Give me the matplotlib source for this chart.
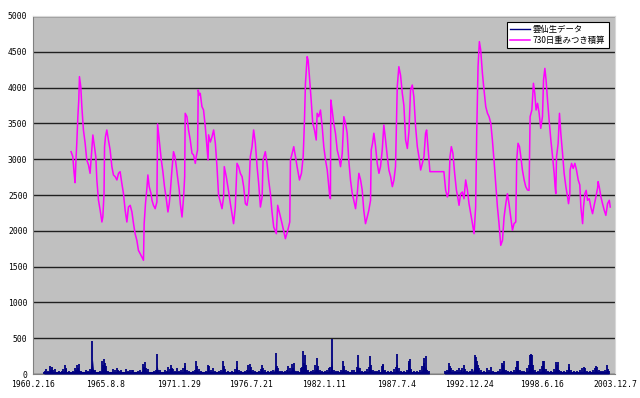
import numpy as np
import matplotlib
matplotlib.use("Agg")
import matplotlib.pyplot as plt

# x axis: days counted from 1960.2.16 (Excel category axis), data dates as decimal years
start_year = 1960.126
tick_labels = ["1960.2.16", "1965.8.8", "1971.1.29", "1976.7.21", "1982.1.11",
               "1987.7.4", "1992.12.24", "1998.6.16", "2003.12.7"]

# daily rain (mm) - the visible spikes
rain_year = [
    1960.95, 1961.05, 1961.13, 1961.25, 1961.38, 1961.45, 1961.58, 1961.65, 1961.76, 1961.9,
    1962.1, 1962.3, 1962.39, 1962.54, 1962.6, 1962.64, 1962.8,
    1963.1, 1963.27, 1963.35, 1963.44, 1963.52, 1963.57, 1963.7, 1963.9,
    1964.14, 1964.3, 1964.40, 1964.60, 1964.7, 1964.78, 1964.95,
    1965.2, 1965.35, 1965.42, 1965.48, 1965.55, 1965.65, 1965.8,
    1966.0, 1966.16, 1966.3, 1966.41, 1966.5, 1966.6, 1966.78, 1966.9,
    1967.16, 1967.3, 1967.45, 1967.55, 1967.66, 1967.8, 1968.0, 1968.17,
    1968.42, 1968.5, 1968.57, 1968.65, 1968.80, 1968.95,
    1969.2, 1969.35, 1969.47, 1969.55, 1969.68, 1969.85,
    1970.05, 1970.2, 1970.30, 1970.4, 1970.48, 1970.55, 1970.68, 1970.8, 1970.93,
    1971.1, 1971.3, 1971.45, 1971.55, 1971.6, 1971.7, 1971.9,
    1972.15, 1972.3, 1972.43, 1972.5, 1972.6, 1972.75, 1972.95,
    1973.15, 1973.32, 1973.36, 1973.5, 1973.7, 1973.85,
    1974.1, 1974.3, 1974.45, 1974.5, 1974.6, 1974.8,
    1975.1, 1975.3, 1975.45, 1975.5, 1975.62, 1975.8,
    1976.1, 1976.2, 1976.33, 1976.46, 1976.55, 1976.7, 1976.85,
    1977.1, 1977.25, 1977.35, 1977.45, 1977.6, 1977.8,
    1978.0, 1978.2, 1978.42, 1978.5, 1978.6, 1978.75, 1978.9,
    1979.1, 1979.25, 1979.35, 1979.5, 1979.60, 1979.7, 1979.78, 1979.9,
    1980.1, 1980.3, 1980.4, 1980.48, 1980.55, 1980.61, 1980.7, 1980.85,
    1981.05, 1981.2, 1981.36, 1981.48, 1981.6, 1981.75, 1981.9,
    1982.1, 1982.25, 1982.4, 1982.5, 1982.61, 1982.65, 1982.75, 1982.9,
    1983.1, 1983.3, 1983.49, 1983.55, 1983.7, 1983.85,
    1984.1, 1984.3, 1984.5, 1984.62, 1984.7, 1984.85,
    1985.1, 1985.3, 1985.43, 1985.5, 1985.57, 1985.7, 1985.85,
    1986.05, 1986.2, 1986.38, 1986.44, 1986.5, 1986.65, 1986.85,
    1987.1, 1987.3, 1987.45, 1987.51, 1987.55, 1987.65, 1987.8,
    1988.05, 1988.25, 1988.39, 1988.45, 1988.48, 1988.6, 1988.8,
    1989.05, 1989.25, 1989.4, 1989.52, 1989.58, 1989.68, 1989.8, 1989.95,
    1991.1, 1991.25, 1991.41, 1991.5, 1991.6, 1991.75, 1991.9,
    1992.05, 1992.2, 1992.35, 1992.45, 1992.55, 1992.65, 1992.8,
    1993.0, 1993.2, 1993.38, 1993.45, 1993.55, 1993.6, 1993.7, 1993.85,
    1994.1, 1994.3, 1994.45, 1994.59, 1994.75,
    1995.1, 1995.3, 1995.44, 1995.5, 1995.57, 1995.7, 1995.85,
    1996.1, 1996.3, 1996.45, 1996.56, 1996.62, 1996.75, 1996.9,
    1997.1, 1997.3, 1997.45, 1997.51, 1997.6, 1997.69, 1997.75, 1997.9,
    1998.1, 1998.3, 1998.45, 1998.5, 1998.58, 1998.7, 1998.85,
    1999.1, 1999.3, 1999.5, 1999.6, 1999.64, 1999.75, 1999.9,
    2000.1, 2000.3, 2000.46, 2000.5, 2000.65, 2000.85,
    2001.1, 2001.3, 2001.45, 2001.6, 2001.7, 2001.85,
    2002.05, 2002.25, 2002.4, 2002.47, 2002.6, 2002.75, 2002.9,
    2003.05, 2003.2, 2003.3, 2003.4, 2003.48]
rain_mm = [
    30, 45, 75, 40, 107, 60, 93, 50, 70, 30,
    35, 45, 75, 121, 70, 85, 35,
    40, 85, 60, 130, 90, 140, 45, 30,
    50, 40, 75, 460, 40, 50, 30,
    40, 186, 120, 210, 150, 107, 40,
    30, 75, 50, 85, 60, 45, 60, 30,
    70, 45, 55, 50, 60, 30, 35, 50,
    140, 100, 163, 90, 75, 30,
    40, 50, 280, 60, 50, 30,
    60, 45, 93, 70, 121, 80, 75, 40, 85,
    35, 50, 90, 154, 107, 60, 35,
    40, 60, 186, 107, 70, 40, 30,
    45, 130, 107, 60, 84, 40,
    35, 60, 177, 107, 70, 40,
    40, 70, 177, 93, 60, 35,
    40, 55, 130, 144, 93, 60, 35,
    40, 70, 121, 84, 50, 40,
    35, 50, 294, 107, 84, 45, 35,
    40, 60, 107, 90, 140, 80, 154, 40,
    45, 80, 100, 317, 150, 270, 130, 60,
    45, 60, 130, 224, 107, 50, 40,
    45, 60, 84, 100, 494, 107, 60, 40,
    40, 60, 186, 107, 60, 40,
    60, 50, 100, 261, 84, 40,
    40, 70, 100, 247, 130, 60, 40,
    40, 50, 107, 140, 130, 60, 40,
    40, 70, 100, 280, 130, 80, 40,
    40, 60, 177, 154, 210, 70, 40,
    45, 60, 107, 224, 154, 256, 60, 35,
    40, 60, 154, 107, 80, 50, 40,
    50, 84, 60, 90, 130, 70, 40,
    40, 70, 261, 233, 177, 130, 90, 50,
    40, 84, 60, 93, 40,
    45, 70, 154, 130, 177, 60, 40,
    45, 60, 100, 177, 186, 60, 40,
    45, 80, 120, 270, 280, 270, 130, 50,
    45, 70, 110, 177, 186, 70, 40,
    45, 70, 168, 130, 163, 60, 40,
    45, 60, 140, 93, 60, 40,
    45, 60, 80, 93, 84, 45,
    40, 60, 80, 107, 93, 50, 40,
    45, 60, 130, 75, 40]
# typical level of the small daily rains between the spikes (mm)
rain_floor = 22

# 730-day weighted cumulative rain (mm)
wsum_year = [
    1962.99, 1963.12, 1963.22, 1963.29, 1963.37, 1963.42, 1963.50, 1963.57, 1963.62, 1963.72,
    1963.80, 1963.92, 1964.05, 1964.17, 1964.30, 1964.42, 1964.55, 1964.63, 1964.75, 1964.85,
    1964.93, 1965.05, 1965.18, 1965.31, 1965.38, 1965.47, 1965.51, 1965.58, 1965.68, 1965.80,
    1965.93, 1966.06, 1966.18, 1966.31, 1966.44, 1966.56, 1966.68, 1966.81, 1966.93, 1967.06,
    1967.19, 1967.31, 1967.44, 1967.57, 1967.69, 1967.81, 1967.94, 1968.06, 1968.19, 1968.32,
    1968.44, 1968.49, 1968.59, 1968.70, 1968.77, 1968.87, 1969.00, 1969.08, 1969.19, 1969.32,
    1969.45, 1969.50, 1969.65, 1969.78, 1969.90, 1970.02, 1970.15, 1970.28, 1970.38, 1970.45,
    1970.58, 1970.70, 1970.81, 1970.91, 1971.00, 1971.13, 1971.21, 1971.34, 1971.46, 1971.54,
    1971.58, 1971.71, 1971.83, 1971.96, 1972.09, 1972.21, 1972.34, 1972.41, 1972.51, 1972.56,
    1972.64, 1972.71, 1972.84, 1972.96, 1973.09, 1973.22, 1973.30, 1973.34, 1973.47, 1973.60,
    1973.72, 1973.85, 1973.97, 1974.09, 1974.35, 1974.47, 1974.52, 1974.67, 1974.85, 1974.98,
    1975.10, 1975.22, 1975.35, 1975.48, 1975.60, 1975.73, 1975.86, 1975.98, 1976.11, 1976.23,
    1976.36, 1976.48, 1976.61, 1976.73, 1976.86, 1976.99, 1977.11, 1977.24, 1977.37, 1977.44,
    1977.61, 1977.74, 1977.86, 1977.99, 1978.10, 1978.24, 1978.44, 1978.54, 1978.69, 1978.87,
    1979.12, 1979.30, 1979.45, 1979.50, 1979.63, 1979.75, 1979.88, 1980.00, 1980.18, 1980.33,
    1980.46, 1980.55, 1980.63, 1980.76, 1980.83, 1980.93, 1981.06, 1981.18, 1981.31, 1981.44,
    1981.51, 1981.63, 1981.76, 1981.89, 1982.01, 1982.14, 1982.27, 1982.39, 1982.46, 1982.51,
    1982.54, 1982.64, 1982.76, 1982.89, 1983.02, 1983.14, 1983.27, 1983.40, 1983.52, 1983.65,
    1983.77, 1983.89, 1984.02, 1984.15, 1984.27, 1984.40, 1984.53, 1984.65, 1984.78, 1984.90,
    1985.02, 1985.15, 1985.28, 1985.40, 1985.53, 1985.58, 1985.68, 1985.78, 1985.91, 1986.03,
    1986.16, 1986.28, 1986.41, 1986.53, 1986.66, 1986.79, 1986.91, 1987.04, 1987.17, 1987.29,
    1987.41, 1987.54, 1987.66, 1987.79, 1987.92, 1988.04, 1988.17, 1988.30, 1988.42, 1988.54,
    1988.67, 1988.79, 1988.92, 1989.05, 1989.17, 1989.30, 1989.43, 1989.55, 1989.67, 1989.75,
    1989.85, 1990.00, 1991.05, 1991.18, 1991.31, 1991.41, 1991.51, 1991.61, 1991.73, 1991.86,
    1991.99, 1992.09, 1992.19, 1992.31, 1992.44, 1992.56, 1992.69, 1992.82, 1992.94, 1993.07,
    1993.20, 1993.32, 1993.44, 1993.52, 1993.62, 1993.72, 1993.82, 1993.95, 1994.07, 1994.20,
    1994.33, 1994.45, 1994.58, 1994.70, 1994.82, 1994.95, 1995.08, 1995.20, 1995.33, 1995.46,
    1995.58, 1995.71, 1995.83, 1995.95, 1996.08, 1996.21, 1996.33, 1996.46, 1996.53, 1996.63,
    1996.74, 1996.84, 1996.96, 1997.09, 1997.21, 1997.34, 1997.46, 1997.54, 1997.67, 1997.79,
    1997.89, 1997.99, 1998.10, 1998.22, 1998.34, 1998.47, 1998.55, 1998.65, 1998.74, 1998.85,
    1998.97, 1999.10, 1999.23, 1999.35, 1999.42, 1999.47, 1999.53, 1999.65, 1999.75, 1999.85,
    1999.98, 2000.10, 2000.23, 2000.36, 2000.43, 2000.53, 2000.55, 2000.66, 2000.78, 2000.91,
    2001.03, 2001.16, 2001.28, 2001.36, 2001.49, 2001.56, 2001.66, 2001.76, 2001.86, 2001.99,
    2002.11, 2002.24, 2002.36, 2002.49, 2002.62, 2002.66, 2002.74, 2002.87, 2002.99, 2003.12,
    2003.24, 2003.37, 2003.50, 2003.57]
wsum_mm = [
    3105, 3036, 2803, 2672, 3036, 3222, 3594, 3827, 4153, 4013,
    3734, 3408, 3222, 2989, 2920, 2803, 3129, 3338, 3175, 3036,
    2710, 2430, 2286, 2123, 2193, 2518, 3175, 3315, 3408, 3268,
    3129, 2896, 2780, 2756, 2710, 2803, 2826, 2663, 2524, 2286,
    2123, 2332, 2356, 2263, 2100, 1960, 1867, 1727, 1681, 1634,
    1588, 2100, 2379, 2600, 2780, 2617, 2524, 2426, 2356, 2309,
    2402, 3492, 3222, 2989, 2826, 2617, 2454, 2263, 2379, 2518,
    2849, 3105, 3036, 2896, 2756, 2570, 2379, 2193, 2472, 2756,
    3641, 3594, 3408, 3268, 3082, 3059, 2942, 3036, 3129, 3967,
    3897, 3920, 3734, 3687, 3455, 3175, 2989, 3340, 3240, 3315,
    3408, 3220, 2900, 2500, 2309, 2472, 2896, 2756, 2547, 2379,
    2240, 2100, 2332, 2942, 2896, 2803, 2756, 2617, 2379, 2356,
    2518, 3036, 3175, 3408, 3222, 2896, 2663, 2332, 2472, 2989,
    3105, 2942, 2710, 2524, 2286, 2053, 1960, 2356, 2239, 2100,
    1890, 2007, 2123, 2989, 3082, 3175, 3036, 2896, 2710, 2803,
    3036, 3501, 4060, 4432, 4386, 4153, 3827, 3501, 3408, 3268,
    3641, 3594, 3687, 3455, 3175, 2989, 2849, 2617, 2477, 2449,
    3827, 3687, 3501, 3362, 3129, 3036, 2896, 3082, 3594, 3501,
    3362, 2989, 2710, 2524, 2426, 2309, 2518, 2803, 2710, 2570,
    2286, 2100, 2193, 2286, 2426, 3129, 3222, 3362, 3175, 2942,
    2803, 2896, 3129, 3478, 3268, 3036, 2849, 2756, 2617, 2710,
    2896, 4013, 4292, 4170, 3920, 3750, 3268, 3150, 3385, 3967,
    4036, 3870, 3455, 3175, 3036, 2849, 2942, 3036, 3362, 3408,
    3175, 2826, 2826, 2570, 2472, 2542, 3036, 3175, 3082, 2803,
    2570, 2472, 2356, 2518, 2542, 2449, 2710, 2570, 2379, 2239,
    2100, 1960, 2332, 3362, 4292, 4642, 4525, 4199, 3967, 3734,
    3641, 3594, 3501, 3268, 2989, 2663, 2332, 2100, 1797, 1867,
    2193, 2379, 2518, 2379, 2193, 2007, 2100, 2123, 2989, 3222,
    3175, 3036, 2849, 2710, 2617, 2570, 2565, 3594, 3687, 4060,
    3920, 3687, 3780, 3641, 3431, 3594, 4106, 4269, 4106, 3827,
    3548, 3268, 3036, 2803, 2617, 2518, 3036, 3222, 3641, 3362,
    3082, 2803, 2617, 2472, 2379, 2518, 2849, 2942, 2872, 2942,
    2849, 2710, 2640, 2332, 2100, 2332, 2518, 2565, 2426, 2449,
    2332, 2239, 2356, 2472, 2600, 2687, 2617, 2472, 2379, 2286,
    2216, 2379, 2426, 2332]


def to_day(y):
    return (np.asarray(y) - start_year) * 365.25


fig = plt.figure(figsize=(6.4, 3.98), dpi=100)
ax = fig.add_axes([0.0516, 0.0603, 0.9094, 0.8995])
ax.set_facecolor("#c0c0c0")

# rain: low band (split where there is no data), then the daily spikes
rx = to_day(rain_year)
ry = np.array(rain_mm, dtype=float)
breaks = np.where(np.diff(rain_year) > 0.5)[0] + 1
for seg_x, seg_y in zip(np.split(rx, breaks), np.split(ry, breaks)):
    ax.fill_between(seg_x, 0, np.minimum(seg_y, rain_floor), color="#000080",
                    lw=0, zorder=3)
    ax.fill_between(seg_x, 0, seg_y * 0.45, color="#000080", lw=0, zorder=3)
ax.vlines(rx, 0, ry, color="#000080", lw=1.3, zorder=3)
ax.plot([], [], color="#000080", lw=1.0, label="雲仙生データ")
ax.plot(to_day(wsum_year), wsum_mm, color="#ff00ff", lw=1.1, zorder=4,
        label="730日重みつき積算")

ax.set_xlim(0, 16000)
ax.set_ylim(0, 5000)
ax.set_xticks(np.arange(0, 16001, 2000))
ax.set_xticklabels(tick_labels)
ax.set_yticks(np.arange(0, 5001, 500))
ax.yaxis.grid(True, color="#202020", lw=1.0)
ax.set_axisbelow(True)
ax.tick_params(length=0, labelsize=5.8, pad=4)
for lab in ax.get_xticklabels() + ax.get_yticklabels():
    lab.set_family("DejaVu Sans Mono")

for side in ["left", "bottom"]:
    ax.spines[side].set_color("#808080")
for side in ["top", "right"]:
    ax.spines[side].set_color("#d8d8d8")

leg = ax.legend(loc="upper right", bbox_to_anchor=(0.996, 0.995),
                prop={"family": ["Noto Sans CJK JP", "DejaVu Sans"], "size": 6.0},
                frameon=True, fancybox=False, edgecolor="black",
                handlelength=2.4, borderpad=0.4, labelspacing=0.2,
                handletextpad=0.3)
leg.get_frame().set_linewidth(0.8)
leg.get_frame().set_facecolor("white")
leg.get_frame().set_alpha(1)

fig.savefig("out.png", dpi=100)
